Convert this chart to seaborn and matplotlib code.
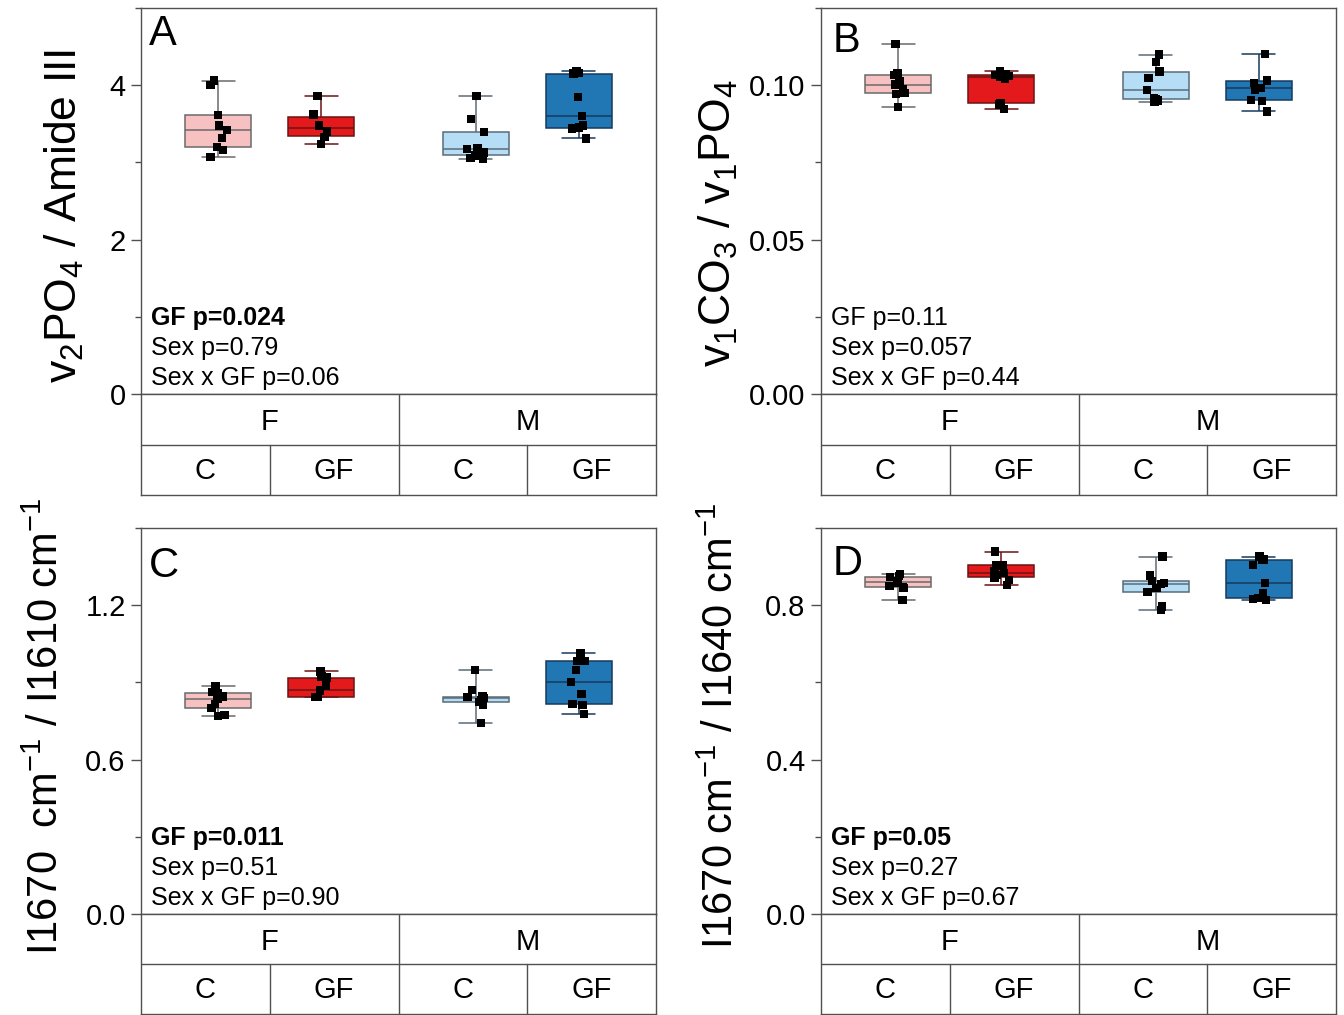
import numpy as np
import pandas as pd
import matplotlib
matplotlib.use("Agg")
import matplotlib.pyplot as plt
import seaborn as sns
from matplotlib.ticker import MultipleLocator, FormatStrFormatter

# ---------------- data ----------------
sexes = ["F", "M"]
groups = ["C", "GF"]

# Panel A : v2PO4 / Amide III
a_F_C = [3.07, 3.16, 3.20, 3.32, 3.42, 3.48, 3.61, 4.00, 4.06]
a_F_GF = [3.24, 3.33, 3.40, 3.48, 3.62, 3.86]
a_M_C = [3.05, 3.06, 3.09, 3.13, 3.17, 3.19, 3.39, 3.56, 3.86]
a_M_GF = [3.31, 3.44, 3.45, 3.48, 3.60, 3.85, 4.15, 4.16, 4.18]

# Panel B : v1CO3 / v1PO4
b_F_C = [0.0929, 0.0972, 0.0975, 0.0988, 0.1002, 0.1013, 0.1032, 0.1040, 0.1133]
b_F_GF = [0.0924, 0.0938, 0.0942, 0.1020, 0.1026, 0.1030, 0.1032, 0.1035, 0.1045]
b_M_C = [0.0947, 0.0950, 0.0954, 0.0957, 0.0985, 0.1024, 0.1044, 0.1075, 0.1099]
b_M_GF = [0.0915, 0.0948, 0.0951, 0.0985, 0.0992, 0.1008, 0.1013, 0.1016, 0.1100]

# Panel C : I1670 / I1610
c_F_C = [0.770, 0.774, 0.801, 0.816, 0.836, 0.845, 0.858, 0.862, 0.886]
c_F_GF = [0.843, 0.843, 0.844, 0.867, 0.871, 0.888, 0.919, 0.923, 0.943]
c_M_C = [0.742, 0.813, 0.823, 0.832, 0.839, 0.842, 0.845, 0.871, 0.947]
c_M_GF = [0.777, 0.812, 0.816, 0.854, 0.901, 0.948, 0.982, 0.983, 1.015]

# Panel D : I1670 / I1640
d_F_C = [0.813, 0.845, 0.846, 0.849, 0.859, 0.862, 0.873, 0.875, 0.880]
d_F_GF = [0.853, 0.866, 0.872, 0.878, 0.883, 0.888, 0.903, 0.905, 0.939]
d_M_C = [0.787, 0.797, 0.835, 0.845, 0.855, 0.858, 0.862, 0.877, 0.926]
d_M_GF = [0.813, 0.816, 0.819, 0.832, 0.858, 0.905, 0.917, 0.918, 0.926]

stats_A = ["GF p=0.024", "Sex p=0.79", "Sex x GF p=0.06"]
stats_B = ["GF p=0.11", "Sex p=0.057", "Sex x GF p=0.44"]
stats_C = ["GF p=0.011", "Sex p=0.51", "Sex x GF p=0.90"]
stats_D = ["GF p=0.05", "Sex p=0.27", "Sex x GF p=0.67"]

ylabel_A = r"v$_2$PO$_4$ / Amide III"
ylabel_B = r"v$_1$CO$_3$ / v$_1$PO$_4$"
ylabel_C = r"I1670  cm$^{-1}$ / I1610 cm$^{-1}$"
ylabel_D = r"I1670 cm$^{-1}$ / I1640 cm$^{-1}$"

fill_colors = {("F", "C"): "#f7c1c2", ("F", "GF"): "#e3191c",
               ("M", "C"): "#b5ddf5", ("M", "GF"): "#2077b4"}
line_colors = {("F", "C"): "#6a6a6a", ("F", "GF"): "#6b1414",
               ("M", "C"): "#5b6b78", ("M", "GF"): "#163a5c"}

# ---------------- style ----------------
sns.set_style("ticks")
plt.rcParams["font.family"] = ["Liberation Sans", "DejaVu Sans"]
plt.rcParams["mathtext.fontset"] = "custom"
plt.rcParams["mathtext.rm"] = "Liberation Sans"
plt.rcParams["mathtext.it"] = "Liberation Sans:italic"
plt.rcParams["mathtext.bf"] = "Liberation Sans:bold"
plt.rcParams["mathtext.default"] = "regular"
plt.rcParams["text.color"] = "black"
plt.rcParams["axes.labelcolor"] = "black"
plt.rcParams["ytick.labelcolor"] = "black"

W, H = 1344, 1015
fig = plt.figure(figsize=(W / 100, H / 100), dpi=100)


def fr(x0, y0, x1, y1):
    return [x0 / W, 1 - y1 / H, (x1 - x0) / W, (y1 - y0) / H]


def make_df(fc, fgf, mc, mgf):
    rows = []
    for (s, g), vals in zip([("F", "C"), ("F", "GF"), ("M", "C"), ("M", "GF")],
                            [fc, fgf, mc, mgf]):
        for v in vals:
            rows.append({"Sex": s, "Group": g, "value": v})
    return pd.DataFrame(rows)


EDGE = "#505050"
np.random.seed(7)


def draw_panel(box_rect, table_rect, df, ylim, major, minor, fmt, ylabel,
               label_fs, label_xy, letter, letter_xy, stats, bold_first):
    ax = fig.add_axes(fr(*box_rect))
    for (s, g) in fill_colors:
        sub = df[(df.Sex == s) & (df.Group == g)]
        sns.boxplot(data=sub, x="Sex", y="value", hue="Group", order=sexes,
                    hue_order=groups,
                    palette={gg: fill_colors[(s, g)] for gg in groups},
                    saturation=1, width=0.8, gap=0.36, whis=(0, 100),
                    linewidth=1.1, linecolor=line_colors[(s, g)],
                    dodge=True, legend=False, ax=ax)
    sns.stripplot(data=df, x="Sex", y="value", hue="Group", order=sexes,
                  hue_order=groups, palette={g: "black" for g in groups},
                  dodge=True, jitter=0.07, marker="s", size=6, linewidth=0,
                  legend=False, zorder=5, ax=ax)
    ax.set_xlim(-0.5, 1.5)
    ax.set_ylim(*ylim)
    ax.set_xticks([])
    ax.set_xlabel("")
    ax.set_ylabel("")
    ax.yaxis.set_major_locator(MultipleLocator(major))
    ax.yaxis.set_minor_locator(MultipleLocator(minor))
    ax.yaxis.set_major_formatter(FormatStrFormatter(fmt))
    ax.tick_params(axis="y", which="major", length=7, width=1, color=EDGE,
                   labelsize=21, labelcolor="black", pad=4, direction="out")
    ax.tick_params(axis="y", which="minor", length=4, width=1, color=EDGE,
                   direction="out")
    for sp in ax.spines.values():
        sp.set_visible(True)
        sp.set_color(EDGE)
        sp.set_linewidth(1.0)
    ax.text(label_xy[0], label_xy[1], ylabel, rotation=90, fontsize=label_fs,
            ha="center", va="center", color="black", transform=ax.transAxes)
    ax.text(letter_xy[0], letter_xy[1], letter, fontsize=30, ha="left",
            va="baseline", color="black", transform=ax.transAxes)
    ys = [0.197, 0.119, 0.041]
    for i, (t, yy) in enumerate(zip(stats, ys)):
        ax.text(0.019, yy, t, fontsize=18, color="black",
                fontweight="bold" if (i == 0 and bold_first) else "normal",
                ha="left", va="center", transform=ax.transAxes)

    # category table below the panel
    tax = fig.add_axes(fr(*table_rect))
    tax.set_xlim(-0.5, 1.5)
    tax.set_ylim(0, 2)
    tax.set_xticks([])
    tax.set_yticks([])
    for sp in tax.spines.values():
        sp.set_visible(True)
        sp.set_color(EDGE)
        sp.set_linewidth(1.0)
    tax.plot([-0.5, 1.5], [1, 1], color=EDGE, lw=1.0)
    tax.plot([0.5, 0.5], [0, 2], color=EDGE, lw=1.0)
    tax.plot([0, 0], [0, 1], color=EDGE, lw=1.0)
    tax.plot([1, 1], [0, 1], color=EDGE, lw=1.0)
    for i, s in enumerate(sexes):
        tax.text(i, 1.45, s, fontsize=21, ha="center", va="center",
                 color="black")
        for j, g in enumerate(groups):
            tax.text(i - 0.25 + 0.5 * j, 0.47, g, fontsize=21,
                     ha="center", va="center", color="black")
    return ax


draw_panel((141, 8, 656, 394), (141, 394, 656, 495),
           make_df(a_F_C, a_F_GF, a_M_C, a_M_GF), (0, 5), 2, 1, "%d",
           ylabel_A, 32, (-0.148, 0.461), "A", (0.016, 0.904), stats_A, True)
draw_panel((821, 8, 1336, 394), (821, 394, 1336, 495),
           make_df(b_F_C, b_F_GF, b_M_C, b_M_GF), (0, 0.125), 0.05, 0.025,
           "%.2f", ylabel_B, 32, (-0.2, 0.443), "B", (0.023, 0.886), stats_B,
           False)
draw_panel((141, 528, 656, 914), (141, 914, 656, 1014),
           make_df(c_F_C, c_F_GF, c_M_C, c_M_GF), (0, 1.5), 0.6, 0.3,
           "%.1f", ylabel_C, 30, (-0.183, 0.486), "C", (0.016, 0.873),
           stats_C, True)
draw_panel((821, 528, 1336, 914), (821, 914, 1336, 1014),
           make_df(d_F_C, d_F_GF, d_M_C, d_M_GF), (0, 1.0), 0.4, 0.2,
           "%.1f", ylabel_D, 30, (-0.192, 0.486), "D", (0.023, 0.878),
           stats_D, True)

fig.savefig("out.png", dpi=100)
